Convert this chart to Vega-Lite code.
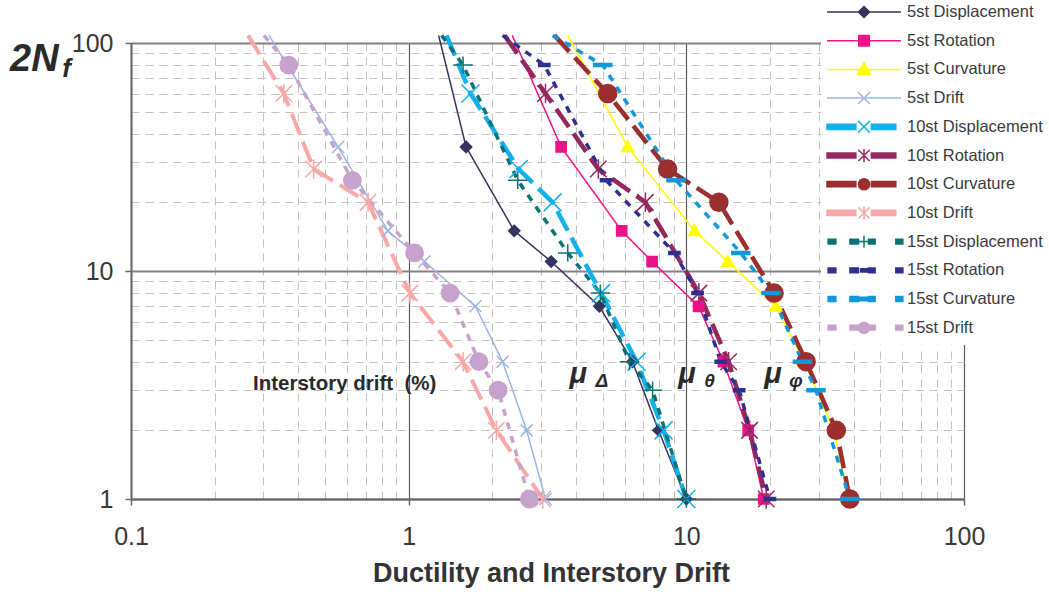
{
  "$schema": "https://vega.github.io/schema/vega-lite/v6.json",
  "width": 833,
  "height": 456,
  "autosize": {"type": "none"},
  "padding": {"left": 131, "top": 43, "right": 85, "bottom": 93},
  "background": "white",
  "config": {"view": {"stroke": null}, "font": "Liberation Sans"},
  "datasets": {
    "curves": [
      {"series": "5st Displacement", "x": 1.282, "y": 108},
      {"series": "5st Displacement", "x": 1.61, "y": 35},
      {"series": "5st Displacement", "x": 2.40, "y": 15},
      {"series": "5st Displacement", "x": 3.26, "y": 11},
      {"series": "5st Displacement", "x": 4.86, "y": 7},
      {"series": "5st Displacement", "x": 6.40, "y": 4},
      {"series": "5st Displacement", "x": 7.94, "y": 2},
      {"series": "5st Displacement", "x": 10.0, "y": 1},
      {"series": "5st Rotation", "x": 2.36, "y": 108},
      {"series": "5st Rotation", "x": 3.54, "y": 35},
      {"series": "5st Rotation", "x": 5.85, "y": 15},
      {"series": "5st Rotation", "x": 7.53, "y": 11},
      {"series": "5st Rotation", "x": 11.07, "y": 7},
      {"series": "5st Rotation", "x": 13.6, "y": 4},
      {"series": "5st Rotation", "x": 16.7, "y": 2},
      {"series": "5st Rotation", "x": 19.0, "y": 1},
      {"series": "5st Curvature", "x": 3.74, "y": 108},
      {"series": "5st Curvature", "x": 6.15, "y": 35},
      {"series": "5st Curvature", "x": 10.7, "y": 15},
      {"series": "5st Curvature", "x": 14.1, "y": 11},
      {"series": "5st Curvature", "x": 21.0, "y": 7},
      {"series": "5st Curvature", "x": 26.6, "y": 4},
      {"series": "5st Curvature", "x": 34.0, "y": 2},
      {"series": "5st Curvature", "x": 38.5, "y": 1},
      {"series": "5st Drift", "x": 0.314, "y": 108},
      {"series": "5st Drift", "x": 0.557, "y": 35},
      {"series": "5st Drift", "x": 0.842, "y": 15},
      {"series": "5st Drift", "x": 1.14, "y": 11},
      {"series": "5st Drift", "x": 1.74, "y": 7},
      {"series": "5st Drift", "x": 2.18, "y": 4},
      {"series": "5st Drift", "x": 2.66, "y": 2},
      {"series": "5st Drift", "x": 3.11, "y": 1},
      {"series": "10st Displacement", "x": 1.369, "y": 108},
      {"series": "10st Displacement", "x": 1.67, "y": 60},
      {"series": "10st Displacement", "x": 2.49, "y": 28},
      {"series": "10st Displacement", "x": 3.30, "y": 20},
      {"series": "10st Displacement", "x": 4.93, "y": 8},
      {"series": "10st Displacement", "x": 6.62, "y": 4},
      {"series": "10st Displacement", "x": 8.28, "y": 2},
      {"series": "10st Displacement", "x": 10.0, "y": 1},
      {"series": "10st Rotation", "x": 2.214, "y": 108},
      {"series": "10st Rotation", "x": 3.11, "y": 60},
      {"series": "10st Rotation", "x": 4.82, "y": 28},
      {"series": "10st Rotation", "x": 7.12, "y": 20},
      {"series": "10st Rotation", "x": 11.1, "y": 8},
      {"series": "10st Rotation", "x": 14.2, "y": 4},
      {"series": "10st Rotation", "x": 16.9, "y": 2},
      {"series": "10st Rotation", "x": 19.4, "y": 1},
      {"series": "10st Curvature", "x": 3.35, "y": 108},
      {"series": "10st Curvature", "x": 5.21, "y": 60},
      {"series": "10st Curvature", "x": 8.56, "y": 28},
      {"series": "10st Curvature", "x": 13.1, "y": 20},
      {"series": "10st Curvature", "x": 20.7, "y": 8},
      {"series": "10st Curvature", "x": 27.0, "y": 4},
      {"series": "10st Curvature", "x": 34.7, "y": 2},
      {"series": "10st Curvature", "x": 38.8, "y": 1},
      {"series": "10st Drift", "x": 0.264, "y": 108},
      {"series": "10st Drift", "x": 0.355, "y": 60},
      {"series": "10st Drift", "x": 0.455, "y": 28},
      {"series": "10st Drift", "x": 0.714, "y": 20},
      {"series": "10st Drift", "x": 1.01, "y": 8},
      {"series": "10st Drift", "x": 1.57, "y": 4},
      {"series": "10st Drift", "x": 2.07, "y": 2},
      {"series": "10st Drift", "x": 3.04, "y": 1},
      {"series": "15st Displacement", "x": 1.314, "y": 108},
      {"series": "15st Displacement", "x": 1.57, "y": 80},
      {"series": "15st Displacement", "x": 2.47, "y": 25},
      {"series": "15st Displacement", "x": 3.74, "y": 12},
      {"series": "15st Displacement", "x": 4.9, "y": 8},
      {"series": "15st Displacement", "x": 6.24, "y": 4},
      {"series": "15st Displacement", "x": 7.56, "y": 3},
      {"series": "15st Displacement", "x": 10.0, "y": 1},
      {"series": "15st Rotation", "x": 2.18, "y": 108},
      {"series": "15st Rotation", "x": 3.08, "y": 80},
      {"series": "15st Rotation", "x": 5.14, "y": 25},
      {"series": "15st Rotation", "x": 9.06, "y": 12},
      {"series": "15st Rotation", "x": 10.98, "y": 8},
      {"series": "15st Rotation", "x": 13.3, "y": 4},
      {"series": "15st Rotation", "x": 15.5, "y": 3},
      {"series": "15st Rotation", "x": 20.0, "y": 1},
      {"series": "15st Curvature", "x": 3.30, "y": 108},
      {"series": "15st Curvature", "x": 5.00, "y": 80},
      {"series": "15st Curvature", "x": 9.18, "y": 25},
      {"series": "15st Curvature", "x": 15.7, "y": 12},
      {"series": "15st Curvature", "x": 20.2, "y": 8},
      {"series": "15st Curvature", "x": 26.2, "y": 4},
      {"series": "15st Curvature", "x": 29.3, "y": 3},
      {"series": "15st Curvature", "x": 38.8, "y": 1},
      {"series": "15st Drift", "x": 0.301, "y": 108},
      {"series": "15st Drift", "x": 0.370, "y": 80},
      {"series": "15st Drift", "x": 0.627, "y": 25},
      {"series": "15st Drift", "x": 1.05, "y": 12},
      {"series": "15st Drift", "x": 1.41, "y": 8},
      {"series": "15st Drift", "x": 1.79, "y": 4},
      {"series": "15st Drift", "x": 2.10, "y": 3},
      {"series": "15st Drift", "x": 2.72, "y": 1}
    ],
    "note": [{"label": "Interstory drift\u00a0\u00a0(%)", "x": 0.275, "y": 3.0}],
    "mu": [
      {"label": "μ", "x": 3.794, "y": 3.227},
      {"label": "μ", "x": 9.359, "y": 3.227},
      {"label": "μ", "x": 19.08, "y": 3.227}
    ],
    "musub": [
      {"label": "Δ", "x": 4.707, "y": 3.099},
      {"label": "θ", "x": 11.61, "y": 3.099},
      {"label": "φ", "x": 23.47, "y": 3.099}
    ],
    "ytitle": [{"label": "2N", "x": 0.0367, "y": 75.4}],
    "ytitlesub": [{"label": "f", "x": 0.0565, "y": 70.95}]
  },
  "layer": [
    {
      "data": {"name": "curves"},
      "mark": {"type": "line", "clip": false},
      "encoding": {
        "x": {
          "field": "x", "type": "quantitative",
          "scale": {"type": "log", "domain": [0.1, 100], "nice": false},
          "axis": {
            "orient": "bottom", "values": [0.1, 1, 10, 100], "format": "~g", "labelFlush": false,
            "labelFont": "Liberation Sans", "labelFontSize": 25, "labelColor": "#383838",
            "labelPadding": 19, "tickSize": 6, "tickColor": "#666666", "tickWidth": 1.5,
            "domainColor": "#666666", "domainWidth": 2,
            "grid": true, "gridColor": "#5a5a5a", "gridWidth": 1.2,
            "title": "Ductility and Interstory Drift", "titleFont": "Liberation Sans",
            "titleFontSize": 27, "titleFontWeight": "bold", "titleColor": "#333333",
            "titlePadding": 11, "titleX": 420
          }
        },
        "y": {
          "field": "y", "type": "quantitative",
          "scale": {"type": "log", "domain": [1, 100], "nice": false},
          "axis": {
            "orient": "left", "values": [1, 10, 100], "format": "~g", "labelFlush": false,
            "labelFont": "Liberation Sans", "labelFontSize": 25, "labelColor": "#383838",
            "labelPadding": 12, "tickSize": 6, "tickColor": "#666666", "tickWidth": 1.5,
            "domainColor": "#666666", "domainWidth": 2,
            "grid": true, "gridColor": "#888080", "gridWidth": 1.8,
            "title": null
          }
        },
        "color": {
          "field": "series", "type": "nominal", "legend": null,
          "scale": {
            "domain": ["5st Displacement", "5st Rotation", "5st Curvature", "5st Drift", "10st Displacement", "10st Rotation", "10st Curvature", "10st Drift", "15st Displacement", "15st Rotation", "15st Curvature", "15st Drift"],
            "range": ["#34345F", "#EE1289", "#FFFF00", "#9AB5E3", "#12B0EC", "#93285F", "#9B2E2E", "#F8A8A8", "#0B7373", "#2F2F8F", "#1197DA", "#C6A2CD"]
          }
        },
        "strokeDash": {
          "field": "series", "type": "nominal", "legend": null,
          "scale": {
            "domain": ["5st Displacement", "5st Rotation", "5st Curvature", "5st Drift", "10st Displacement", "10st Rotation", "10st Curvature", "10st Drift", "15st Displacement", "15st Rotation", "15st Curvature", "15st Drift"],
            "range": [[1, 0], [1, 0], [1, 0], [1, 0], [22, 8], [22, 8], [22, 8], [22, 8], [7, 7], [7, 7], [7, 7], [7, 7]]
          }
        },
        "strokeWidth": {
          "field": "series", "type": "nominal", "legend": null,
          "scale": {
            "type": "ordinal",
            "domain": ["5st Displacement", "5st Rotation", "5st Curvature", "5st Drift", "10st Displacement", "10st Rotation", "10st Curvature", "10st Drift", "15st Displacement", "15st Rotation", "15st Curvature", "15st Drift"],
            "range": [1.5, 1.5, 1.5, 1.5, 4.5, 4.5, 4.5, 4, 3.5, 3.5, 3.5, 3.5]
          }
        }
      }
    },
    {
      "data": {"name": "curves"},
      "transform": [{"filter": "datum.y <= 100"}],
      "mark": {"type": "point", "filled": true, "opacity": 1, "size": 225, "strokeWidth": 1.5},
      "encoding": {
        "x": {
          "field": "x", "type": "quantitative",
          "axis": {
            "orient": "bottom", "values": [0.2, 0.3, 0.4, 0.5, 0.6, 0.7, 0.8, 0.9, 2, 3, 4, 5, 6, 7, 8, 9, 20, 30, 40, 50, 60, 70, 80, 90],
            "labels": false, "ticks": false, "domain": false, "title": null,
            "grid": true, "gridColor": "#C9BDBD", "gridWidth": 1, "gridDash": [8, 6]
          }
        },
        "y": {
          "field": "y", "type": "quantitative",
          "axis": {
            "orient": "left", "values": [2, 3, 4, 5, 6, 7, 8, 9, 20, 30, 40, 50, 60, 70, 80, 90],
            "labels": false, "ticks": false, "domain": false, "title": null,
            "grid": true, "gridColor": "#C9BDBD", "gridWidth": 1, "gridDash": [8, 6]
          }
        },
        "fill": {
          "field": "series", "type": "nominal", "legend": null,
          "scale": {
            "domain": ["5st Displacement", "5st Rotation", "5st Curvature", "5st Drift", "10st Displacement", "10st Rotation", "10st Curvature", "10st Drift", "15st Displacement", "15st Rotation", "15st Curvature", "15st Drift"],
            "range": ["#34345F", "#EE1289", "#FFFF00", "#9AB5E3", "#12B0EC", "#93285F", "#9B2E2E", "#F8A8A8", "#0B7373", "#2F2F8F", "#1197DA", "#C6A2CD"]
          }
        },
        "stroke": {
          "field": "series", "type": "nominal", "legend": null,
          "scale": {
            "domain": ["5st Displacement", "5st Rotation", "5st Curvature", "5st Drift", "10st Displacement", "10st Rotation", "10st Curvature", "10st Drift", "15st Displacement", "15st Rotation", "15st Curvature", "15st Drift"],
            "range": ["#34345F", "#EE1289", "#FFFF00", "#9AB5E3", "#12B0EC", "#93285F", "#9B2E2E", "#F8A8A8", "#0B7373", "#2F2F8F", "#1197DA", "#C6A2CD"]
          }
        },
        "shape": {
          "field": "series", "type": "nominal", "legend": null,
          "scale": {
            "domain": ["5st Displacement", "5st Rotation", "5st Curvature", "5st Drift", "10st Displacement", "10st Rotation", "10st Curvature", "10st Drift", "15st Displacement", "15st Rotation", "15st Curvature", "15st Drift"],
            "range": [
              "M0,-0.75L0.75,0L0,0.75L-0.75,0Z",
              "M-0.68,-0.68L0.68,-0.68L0.68,0.68L-0.68,0.68Z",
              "M0,-0.8L0.8,0.62L-0.8,0.62Z",
              "M-0.8,-0.8L0.8,0.8M-0.8,0.8L0.8,-0.8",
              "M-1.2,-1.2L1.2,1.2M-1.2,1.2L1.2,-1.2",
              "M-1.1,-1.1L1.1,1.1M-1.1,1.1L1.1,-1.1M0,-1.3L0,1.3",
              "M-1.2,0A1.2,1.2 0 1,0 1.2,0A1.2,1.2 0 1,0 -1.2,0Z",
              "M-1.1,-1.1L1.1,1.1M-1.1,1.1L1.1,-1.1M0,-1.3L0,1.3",
              "M-1.3,0L1.3,0M0,-1.15L0,1.15",
              "M-0.75,-0.2L0.75,-0.2L0.75,0.2L-0.75,0.2Z",
              "M-1.2,-0.2L1.2,-0.2L1.2,0.2L-1.2,0.2Z",
              "M-1.15,0A1.15,1.15 0 1,0 1.15,0A1.15,1.15 0 1,0 -1.15,0Z"
            ]
          }
        }
      }
    },
    {
      "data": {"name": "curves"},
      "transform": [{"filter": "false"}],
      "mark": {"type": "point", "filled": true, "opacity": 1, "size": 5476, "strokeWidth": 1.5},
      "encoding": {
        "x": {"field": "x", "type": "quantitative", "axis": null},
        "y": {"field": "y", "type": "quantitative", "axis": null},
        "fill": {
          "field": "series", "type": "nominal",
          "scale": {
            "domain": ["5st Displacement", "5st Rotation", "5st Curvature", "5st Drift", "10st Displacement", "10st Rotation", "10st Curvature", "10st Drift", "15st Displacement", "15st Rotation", "15st Curvature", "15st Drift"],
            "range": ["#34345F", "#EE1289", "#FFFF00", "#9AB5E3", "#12B0EC", "#93285F", "#9B2E2E", "#F8A8A8", "#0B7373", "#2F2F8F", "#1197DA", "#C6A2CD"]
          },
          "legend": {"title": null, "orient": "none", "legendX": 690, "legendY": -48, "padding": 5, "fillColor": "white", "clipHeight": 24, "rowPadding": 4.7, "symbolSize": 5476, "symbolStrokeWidth": 1.5, "symbolOpacity": 1, "labelFont": "Liberation Sans", "labelFontSize": 16.5, "labelColor": "#3a3a3a", "labelOffset": 5, "labelLimit": 300}
        },
        "stroke": {
          "field": "series", "type": "nominal",
          "scale": {
            "domain": ["5st Displacement", "5st Rotation", "5st Curvature", "5st Drift", "10st Displacement", "10st Rotation", "10st Curvature", "10st Drift", "15st Displacement", "15st Rotation", "15st Curvature", "15st Drift"],
            "range": ["#34345F", "#EE1289", "#FFFF00", "#9AB5E3", "#12B0EC", "#93285F", "#9B2E2E", "#F8A8A8", "#0B7373", "#2F2F8F", "#1197DA", "#C6A2CD"]
          },
          "legend": {"title": null, "orient": "none", "legendX": 690, "legendY": -48, "padding": 5, "fillColor": "white", "clipHeight": 24, "rowPadding": 4.7, "symbolSize": 5476, "symbolStrokeWidth": 1.5, "symbolOpacity": 1, "labelFont": "Liberation Sans", "labelFontSize": 16.5, "labelColor": "#3a3a3a", "labelOffset": 5, "labelLimit": 300}
        },
        "shape": {
          "field": "series", "type": "nominal",
          "scale": {
            "domain": ["5st Displacement", "5st Rotation", "5st Curvature", "5st Drift", "10st Displacement", "10st Rotation", "10st Curvature", "10st Drift", "15st Displacement", "15st Rotation", "15st Curvature", "15st Drift"],
            "range": [
              "M-1,0L1,0M0,-0.15L0.15,0L0,0.15L-0.15,0Z",
              "M-1,0L1,0M-0.14,-0.14L0.14,-0.14L0.14,0.14L-0.14,0.14Z",
              "M-1,0L1,0M0,-0.17L0.17,0.13L-0.17,0.13Z",
              "M-1,0L1,0M-0.16,-0.16L0.16,0.16M-0.16,0.16L0.16,-0.16",
              "M-1,-0.07L-0.22,-0.07L-0.22,0.07L-1,0.07ZM0.2,-0.07L0.86,-0.07L0.86,0.07L0.2,0.07ZM-0.16,-0.16L0.16,0.16M-0.16,0.16L0.16,-0.16",
              "M-1,-0.07L-0.22,-0.07L-0.22,0.07L-1,0.07ZM0.2,-0.07L0.86,-0.07L0.86,0.07L0.2,0.07ZM-0.15,-0.15L0.15,0.15M-0.15,0.15L0.15,-0.15M0,-0.18L0,0.18",
              "M-1,-0.07L-0.22,-0.07L-0.22,0.07L-1,0.07ZM0.2,-0.07L0.86,-0.07L0.86,0.07L0.2,0.07ZM-0.15,0A0.15,0.15 0 1,0 0.15,0A0.15,0.15 0 1,0 -0.15,0Z",
              "M-1,-0.07L-0.22,-0.07L-0.22,0.07L-1,0.07ZM0.2,-0.07L0.86,-0.07L0.86,0.07L0.2,0.07ZM-0.15,-0.15L0.15,0.15M-0.15,0.15L0.15,-0.15M0,-0.18L0,0.18",
              "M-0.97,-0.065L-0.76,-0.065L-0.76,0.065L-0.97,0.065ZM-0.38,-0.065L-0.15,-0.065L-0.15,0.065L-0.38,0.065ZM0.12,-0.065L0.3,-0.065L0.3,0.065L0.12,0.065ZM0.86,-0.065L1.05,-0.065L1.05,0.065L0.86,0.065ZM-0.18,0L0.18,0M0,-0.16L0,0.16",
              "M-0.97,-0.065L-0.76,-0.065L-0.76,0.065L-0.97,0.065ZM-0.38,-0.065L-0.15,-0.065L-0.15,0.065L-0.38,0.065ZM0.12,-0.065L0.3,-0.065L0.3,0.065L0.12,0.065ZM0.86,-0.065L1.05,-0.065L1.05,0.065L0.86,0.065ZM-0.09,-0.045L0.09,-0.045L0.09,0.045L-0.09,0.045Z",
              "M-0.97,-0.065L-0.76,-0.065L-0.76,0.065L-0.97,0.065ZM-0.38,-0.065L-0.15,-0.065L-0.15,0.065L-0.38,0.065ZM0.12,-0.065L0.3,-0.065L0.3,0.065L0.12,0.065ZM0.86,-0.065L1.05,-0.065L1.05,0.065L0.86,0.065ZM-0.16,-0.045L0.16,-0.045L0.16,0.045L-0.16,0.045Z",
              "M-0.97,-0.065L-0.76,-0.065L-0.76,0.065L-0.97,0.065ZM-0.38,-0.065L-0.15,-0.065L-0.15,0.065L-0.38,0.065ZM0.12,-0.065L0.3,-0.065L0.3,0.065L0.12,0.065ZM0.86,-0.065L1.05,-0.065L1.05,0.065L0.86,0.065ZM-0.15,0A0.15,0.15 0 1,0 0.15,0A0.15,0.15 0 1,0 -0.15,0Z"
            ]
          },
          "legend": {"title": null, "orient": "none", "legendX": 690, "legendY": -48, "padding": 5, "fillColor": "white", "clipHeight": 24, "rowPadding": 4.7, "symbolSize": 5476, "symbolStrokeWidth": 1.5, "symbolOpacity": 1, "labelFont": "Liberation Sans", "labelFontSize": 16.5, "labelColor": "#3a3a3a", "labelOffset": 5, "labelLimit": 300}
        }
      }
    },
    {
      "data": {"name": "note"},
      "mark": {"type": "text", "font": "Liberation Sans", "fontWeight": "bold", "fontSize": 20.5, "align": "left", "baseline": "alphabetic", "color": "#2a2a2a"},
      "encoding": {
        "x": {"field": "x", "type": "quantitative", "axis": null},
        "y": {"field": "y", "type": "quantitative", "axis": null},
        "text": {"field": "label"}
      }
    },
    {
      "data": {"name": "mu"},
      "mark": {"type": "text", "font": "Liberation Sans", "fontWeight": "bold", "fontStyle": "italic", "fontSize": 29, "align": "left", "baseline": "alphabetic", "color": "#2a2a2a"},
      "encoding": {
        "x": {"field": "x", "type": "quantitative", "axis": null},
        "y": {"field": "y", "type": "quantitative", "axis": null},
        "text": {"field": "label"}
      }
    },
    {
      "data": {"name": "musub"},
      "mark": {"type": "text", "font": "Liberation Sans", "fontWeight": "bold", "fontStyle": "italic", "fontSize": 19, "align": "left", "baseline": "alphabetic", "color": "#2a2a2a"},
      "encoding": {
        "x": {"field": "x", "type": "quantitative", "axis": null},
        "y": {"field": "y", "type": "quantitative", "axis": null},
        "text": {"field": "label"}
      }
    },
    {
      "data": {"name": "ytitle"},
      "mark": {"type": "text", "font": "Liberation Sans", "fontWeight": "bold", "fontStyle": "italic", "fontSize": 38, "align": "left", "baseline": "alphabetic", "color": "#2a2a2a"},
      "encoding": {
        "x": {"field": "x", "type": "quantitative", "axis": null},
        "y": {"field": "y", "type": "quantitative", "axis": null},
        "text": {"field": "label"}
      }
    },
    {
      "data": {"name": "ytitlesub"},
      "mark": {"type": "text", "font": "Liberation Sans", "fontWeight": "bold", "fontStyle": "italic", "fontSize": 26, "align": "left", "baseline": "alphabetic", "color": "#2a2a2a"},
      "encoding": {
        "x": {"field": "x", "type": "quantitative", "axis": null},
        "y": {"field": "y", "type": "quantitative", "axis": null},
        "text": {"field": "label"}
      }
    }
  ],
  "resolve": {
    "scale": {"shape": "independent", "fill": "independent", "stroke": "independent"},
    "axis": {"x": "independent", "y": "independent"}
  }
}
